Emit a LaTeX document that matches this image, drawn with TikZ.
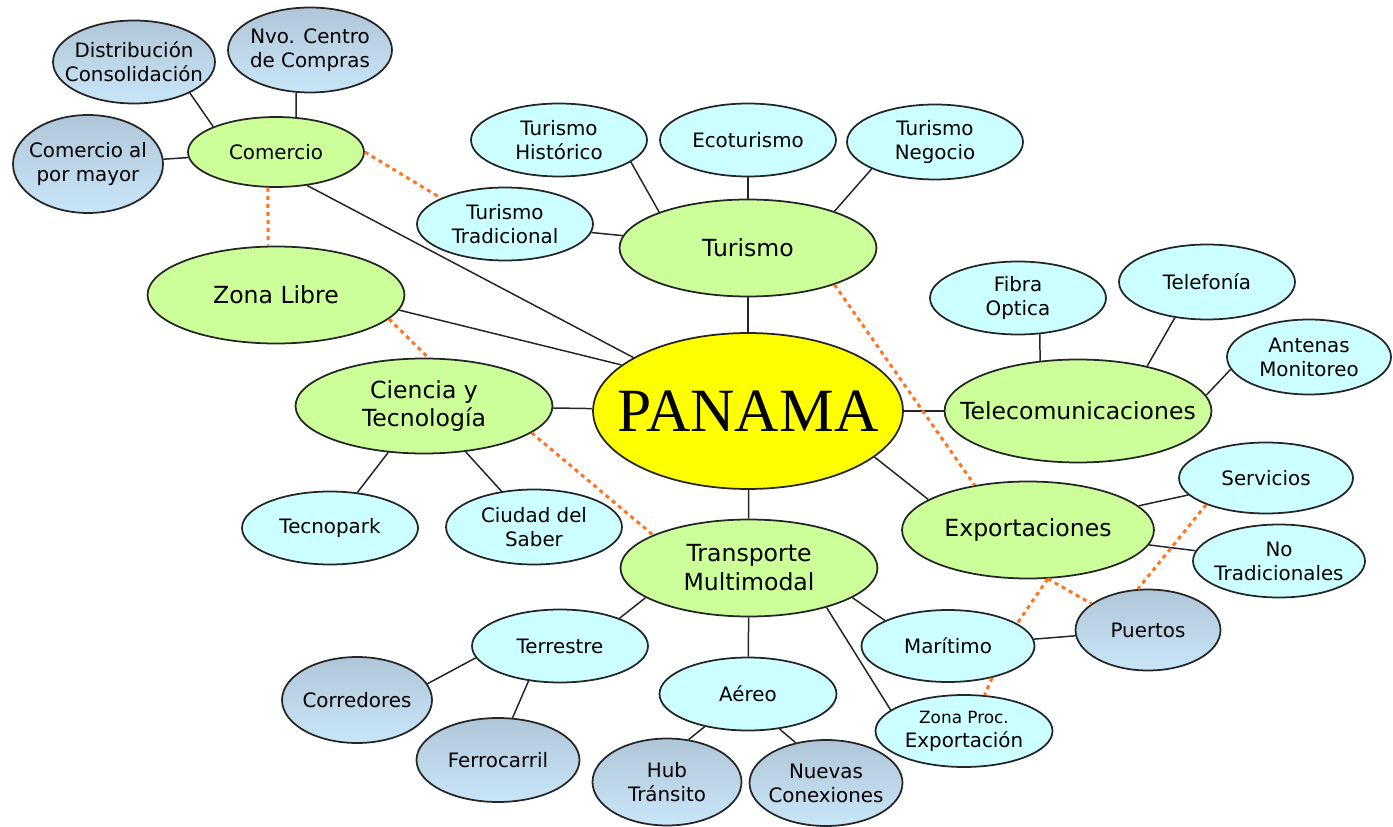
\documentclass[tikz,border=0pt]{standalone}
\usepackage{fontspec}
\setmainfont{DejaVu Sans}
\newfontfamily\serifpan{Liberation Serif}
\usetikzlibrary{shapes.geometric}

\definecolor{amarillo}{HTML}{FFFF00}
\definecolor{verdeclaro}{HTML}{CCFF99}
\definecolor{celeste}{HTML}{CCFFFF}
\definecolor{grisazul}{HTML}{B0C6D8}
\definecolor{azulpalido}{HTML}{D6F2FF}
\definecolor{azulbajo}{HTML}{C8E6F8}
\definecolor{naranja}{HTML}{FF7420}

\tikzset{
  burbuja/.style={ellipse, draw=black!85, line width=1pt, inner sep=-40pt, align=center},
  centro/.style={burbuja, fill=amarillo, minimum width=6.2cm, minimum height=3.12cm,
    font=\serifpan\fontsize{35}{40}\selectfont},
  rama/.style={burbuja, fill=verdeclaro, minimum width=5.14cm, minimum height=1.94cm,
    font=\fontsize{13.4}{16.5}\selectfont},
  hoja/.style={burbuja, fill=celeste, minimum width=3.52cm, minimum height=1.46cm,
    font=\fontsize{11.3}{13.6}\selectfont},
  sombra/.style={burbuja, top color=grisazul, middle color=azulpalido, bottom color=azulbajo,
    minimum width=3.04cm, minimum height=1.72cm, font=\fontsize{11.3}{13.6}\selectfont},
  enlace/.style={line width=0.85pt, black!85},
  cruce/.style={line width=1.7pt, naranja, dash pattern=on 2.3pt off 2.3pt}
}

\begin{document}
\begin{tikzpicture}[x=0.02cm, y=-0.02cm]
  \useasboundingbox (0,0) rectangle (1393,827);

  % nodo central
  \node[centro] (pan) at (748,411) {PANAMA};

  % ramas
  \node[rama] (tur) at (748,248) {Turismo};
  \node[rama, minimum width=3.52cm, minimum height=1.40cm, font=\fontsize{11.3}{13.6}\selectfont] (com) at (276,152) {Comercio};
  \node[rama] (zl) at (276,295) {Zona Libre};
  \node[rama, minimum height=1.90cm] (cie) at (424,406) {Ciencia y\\Tecnología};
  \node[rama, minimum width=5.34cm, minimum height=2.06cm] (tel) at (1078,411) {Telecomunicaciones};
  \node[rama, minimum width=5.04cm] (exp) at (1028,530) {Exportaciones};
  \node[rama] (tra) at (749,568) {Transporte\\Multimodal};

  % hojas
  \node[sombra, minimum width=3.24cm, minimum height=1.66cm] (dis) at (134,62) {Distribución\\Consolidación};
  \node[sombra, minimum width=3.28cm, minimum height=1.70cm] (nvo) at (310,50) {Nvo. Centro\\de Compras};
  \node[sombra, minimum width=3.00cm, minimum height=1.96cm] (may) at (88,164) {Comercio al\\por mayor};
  \node[hoja] (tt) at (505,224) {Turismo\\Tradicional};
  \node[hoja] (his) at (559,140) {Turismo\\Histórico};
  \node[hoja] (eco) at (748,140) {Ecoturismo};
  \node[hoja, minimum height=1.50cm] (neg) at (935,142) {Turismo\\Negocio};
  \node[hoja] (tec) at (330,528) {Tecnopark};
  \node[hoja, minimum height=1.50cm] (cds) at (534,527) {Ciudad del\\Saber};
  \node[hoja] (fib) at (1018,298) {Fibra\\Optica};
  \node[hoja, minimum height=1.50cm] (tfn) at (1207,282) {Telefonía};
  \node[hoja, minimum width=3.28cm, minimum height=1.50cm] (ant) at (1309,357) {Antenas\\Monitoreo};
  \node[hoja, minimum width=3.48cm, minimum height=1.42cm] (ser) at (1266,478) {Servicios};
  \node[hoja, minimum width=3.44cm] (ntr) at (1279,561) {No\\Tradicionales};
  \node[sombra, minimum width=2.90cm, minimum height=1.62cm] (pue) at (1148,630) {Puertos};
  \node[hoja, minimum width=3.46cm, minimum height=1.44cm] (mar) at (948,646) {Marítimo};
  \node[hoja, minimum width=3.54cm, minimum height=1.44cm] (zpe) at (964,731) {{\fontsize{9.6}{12}\selectfont Zona Proc.}\\Exportación};
  \node[hoja] (ter) at (560,646) {Terrestre};
  \node[sombra, minimum width=3.00cm] (cor) at (357,700) {Corredores};
  \node[sombra, minimum width=3.26cm, minimum height=1.68cm] (fer) at (498,760) {Ferrocarril};
  \node[hoja, minimum width=3.54cm] (aer) at (748,694) {Aéreo};
  \node[sombra, minimum width=2.98cm, minimum height=1.74cm] (hub) at (667,782) {Hub\\Tránsito};
  \node[sombra, minimum width=3.06cm] (nue) at (826,783) {Nuevas\\Conexiones};

  % enlaces al centro
  \draw[enlace] (tur) -- (pan);
  \draw[enlace] (cie) -- (pan);
  \draw[enlace] (tel) -- (pan);
  \draw[enlace] (tra) -- (pan);
  \draw[enlace] (zl.-7) -- (pan.160);
  \draw[enlace] (com.-47) -- (pan.155);
  \draw[enlace] (pan.-20) -- (exp.163);

  % enlaces de cada rama
  \draw[enlace] (com.158) -- (dis.-29);
  \draw[enlace] (com.60) -- (nvo.-108);
  \draw[enlace] (com) -- (may);
  \draw[enlace] (tur) -- (tt);
  \draw[enlace] (tur.158) -- (his.-17);
  \draw[enlace] (tur) -- (eco);
  \draw[enlace] (tur.23) -- (neg.-157);
  \draw[enlace] (cie) -- (tec);
  \draw[enlace] (cie) -- (cds);
  \draw[enlace] (tel.127) -- (fib.-59);
  \draw[enlace] (tel.33) -- (tfn.-132);
  \draw[enlace] (tel.7) -- (ant.-171);
  \draw[enlace] (exp) -- (ser);
  \draw[enlace] (exp) -- (ntr);
  \draw[enlace] (mar) -- (pue);
  \draw[enlace] (tra.196) -- (ter.25);
  \draw[enlace] (tra) -- (aer);
  \draw[enlace] (tra.-16) -- (mar.158);
  \draw[enlace] (tra.-27) -- (zpe.164);
  \draw[enlace] (ter.188) -- (cor.13);
  \draw[enlace] (ter.-132) -- (fer.71);
  \draw[enlace] (aer.-143) -- (hub.63);
  \draw[enlace] (aer.-48) -- (nue.127);

  % relaciones cruzadas (punteadas)
  \draw[cruce] (com.east) -- (tt.158);
  \draw[cruce] (com.-103) -- (zl.99);
  \draw[cruce] (zl.-12) -- (cie.85);
  \draw[cruce] (cie.-14) -- (tra.161);
  \draw[cruce] (tur.-23) -- (exp.140);
  \draw[cruce] (exp.-68) -- (mar.18);
  \draw[cruce] (exp.-68) -- (pue.155);
  \draw[cruce] (ser.204) -- (pue.104);
  \draw[cruce] (mar.-36) -- (zpe.60);
\end{tikzpicture}
\end{document}
